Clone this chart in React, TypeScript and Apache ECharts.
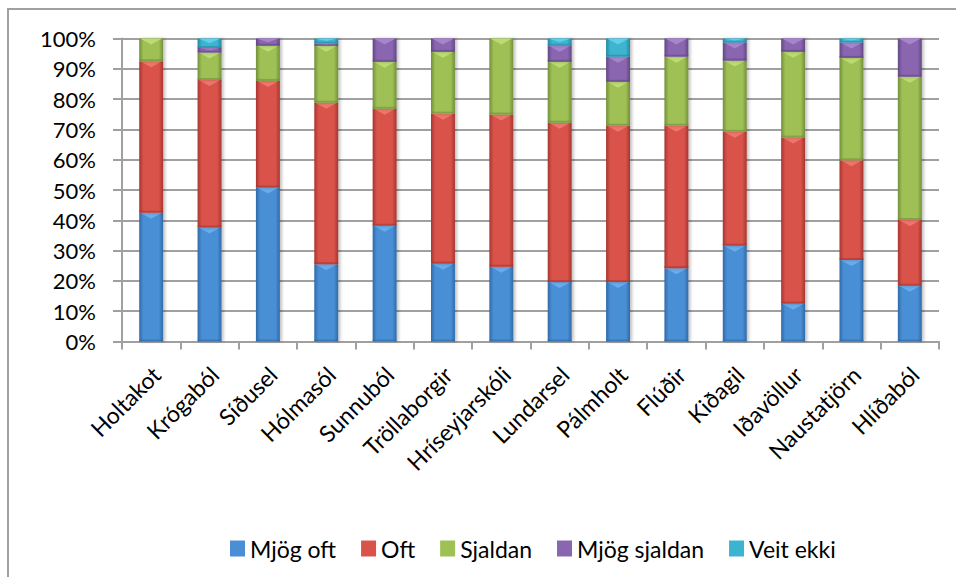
import React, { useEffect, useRef } from "react";
import * as echarts from "echarts";

const categories = [
  "Holtakot", "Krógaból", "Síðusel", "Hólmasól", "Sunnuból", "Tröllaborgir",
  "Hríseyjarskóli", "Lundarsel", "Pálmholt", "Flúðir", "Kiðagil", "Iðavöllur",
  "Naustatjörn", "Hlíðaból",
];
const seriesNames = ["Mjög oft", "Oft", "Sjaldan", "Mjög sjaldan", "Veit ekki"];
const mjogOft = [42.5, 37.6, 50.8, 25.5, 38.2, 25.7, 24.7, 19.6, 19.6, 24.2, 31.6, 12.5, 26.9, 18.4];
const oft = [50.0, 48.7, 35.2, 53.3, 38.6, 49.5, 50.2, 52.6, 51.6, 47.0, 37.6, 54.8, 32.9, 21.7];
const sjaldan = [7.5, 9.1, 11.6, 18.8, 15.5, 20.4, 25.1, 20.1, 14.5, 22.8, 23.5, 28.3, 33.8, 47.3];
const mjogSjaldan = [0, 1.5, 2.4, 0.8, 7.7, 4.4, 0, 5.3, 8.3, 6.0, 6.0, 4.4, 5.1, 12.6];
const veitEkki = [0, 3.1, 0, 1.6, 0, 0, 0, 2.4, 6.0, 0, 1.3, 0, 1.3, 0];
const yTicks = [0, 10, 20, 30, 40, 50, 60, 70, 80, 90, 100];

const seriesValues = [mjogOft, oft, sjaldan, mjogSjaldan, veitEkki];
const baseColors = ["#4a8fd6", "#d9534b", "#9fc055", "#8a66b0", "#3cb4d0"];
const darkColors = ["#2f6aa8", "#a8352f", "#72903a", "#634884", "#2788a0"];
const lightColors = ["#6fb0f0", "#f07c72", "#c0e078", "#ad8ad2", "#66d4ec"];
const FONT = "Lato, 'Noto Sans', sans-serif";

export default function App() {
  const ref = useRef<HTMLDivElement>(null);
  useEffect(() => {
    if (!ref.current) return;
    const chart = echarts.init(ref.current, undefined, { renderer: "svg" });
    const cum = categories.map(() => 0);
    const series = seriesValues.map((vals, si) => {
      const data = vals.map((v, j) => {
        const lo = cum[j];
        cum[j] += v;
        return [j, lo, lo + v];
      });
      const grad = {
        type: "linear", x: 0, y: 0, x2: 1, y2: 0,
        colorStops: [
          { offset: 0, color: darkColors[si] },
          { offset: 0.18, color: baseColors[si] },
          { offset: 0.5, color: baseColors[si] },
          { offset: 0.82, color: baseColors[si] },
          { offset: 1, color: darkColors[si] },
        ],
      };
      return {
        type: "custom",
        name: seriesNames[si],
        itemStyle: { color: baseColors[si] },
        encode: { x: 0, y: [1, 2] },
        data,
        renderItem: (params: any, api: any) => {
          const x = api.value(0);
          const lo = api.value(1);
          const hi = api.value(2);
          if (hi - lo <= 0) return null;
          const pTop = api.coord([x, hi]);
          const pBot = api.coord([x, lo]);
          const w = api.size([1, 0])[0] * 0.41;
          const left = pTop[0] - w / 2;
          const top = pTop[1];
          const h = pBot[1] - pTop[1];
          const bv = Math.min(6, h / 2);
          return {
            type: "group",
            children: [
              {
                type: "rect",
                shape: { x: left, y: top, width: w, height: h },
                style: {
                  fill: grad,
                  shadowColor: "rgba(0,0,0,0.25)",
                  shadowBlur: 3,
                  shadowOffsetX: 2,
                  shadowOffsetY: 0,
                },
              },
              {
                type: "polygon",
                shape: { points: [[left + 1, top], [left + w - 1, top], [left + w / 2, top + bv]] },
                style: { fill: lightColors[si], opacity: 0.85 },
              },
              {
                type: "rect",
                shape: { x: left, y: top + h - Math.min(2, h / 3), width: w, height: Math.min(2, h / 3) },
                style: { fill: darkColors[si], opacity: 0.6 },
              },
            ],
          };
        },
      };
    });

    chart.setOption({
      animation: false,
      backgroundColor: "#ffffff",
      textStyle: { fontFamily: FONT },
      grid: { left: 122, right: 17, top: 38.5, bottom: 235.5 },
      graphic: [
        {
          type: "polyline",
          shape: { points: [[8, 577], [8, 9], [956, 9]] },
          style: { stroke: "#a0a0a0", lineWidth: 2, fill: "none" },
          silent: true,
        },
      ],
      legend: {
        left: 225,
        top: 532,
        itemWidth: 15,
        itemHeight: 16,
        itemGap: 25,
        icon: "rect",
        textStyle: { fontFamily: FONT, fontSize: 23, color: "#000" },
        data: seriesNames,
      },
      xAxis: {
        type: "category",
        data: categories,
        axisLine: { lineStyle: { color: "#a0a0a0", width: 2 } },
        axisTick: { show: true, length: 8, lineStyle: { color: "#a0a0a0", width: 2 } },
        axisLabel: {
          rotate: 45,
          interval: 0,
          margin: 24,
          verticalAlign: "top",
          lineHeight: 14,
          fontFamily: FONT,
          fontSize: 23,
          color: "#000",
        },
      },
      yAxis: {
        type: "value",
        min: yTicks[0],
        max: yTicks[yTicks.length - 1],
        interval: 10,
        axisLine: { show: true, lineStyle: { color: "#a0a0a0", width: 2 } },
        axisTick: { show: true, length: 9, lineStyle: { color: "#a0a0a0", width: 2 } },
        splitLine: { show: true, lineStyle: { color: "#a0a0a0", width: 2 } },
        axisLabel: {
          formatter: "{value}%",
          margin: 26,
          fontFamily: FONT,
          fontSize: 22,
          color: "#000",
        },
      },
      series,
    });
    return () => chart.dispose();
  }, []);
  return (
    <div
      ref={ref}
      style={{ position: "absolute", left: 0, top: 0, width: 956, height: 577 }}
    />
  );
}
